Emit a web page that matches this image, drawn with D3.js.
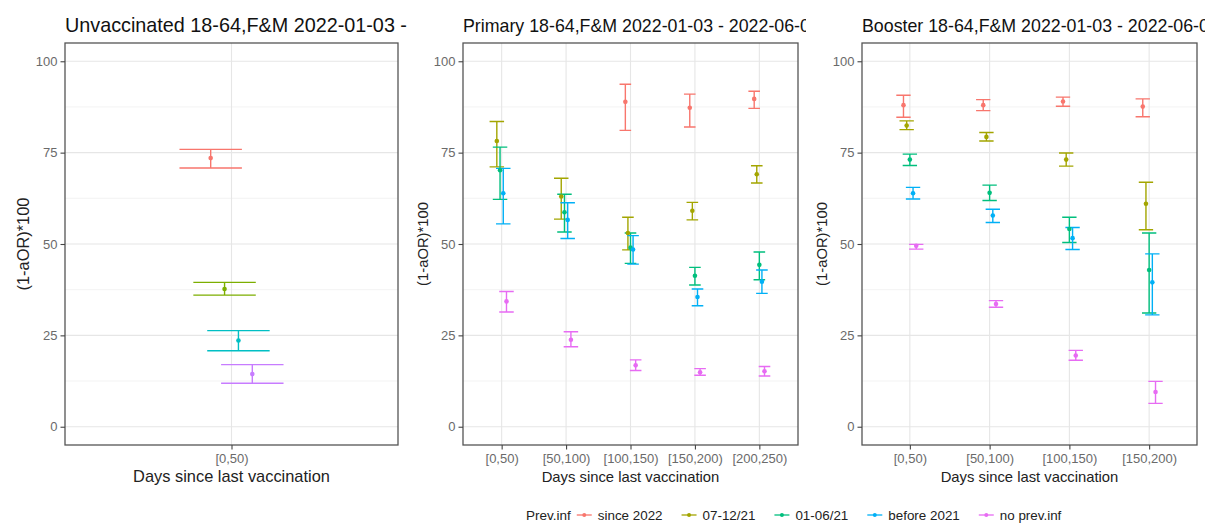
<!DOCTYPE html>
<html><head><meta charset="utf-8">
<script src="https://cdn.jsdelivr.net/npm/d3@7"></script>
<style>
html,body{margin:0;padding:0;background:#fff;}
svg{display:block;font-family:"Liberation Sans",Arial,Helvetica,sans-serif;}
</style></head><body>
<svg id="chart" width="1208" height="524"></svg>
<script>
// Prior-infection groups and their hue palette (5 levels)
const groups = ["since 2022", "07-12/21", "01-06/21", "before 2021", "no prev.inf"];
const groupColors = ["#F8766D", "#A3A500", "#00BF7D", "#00B0F6", "#E76BF3"];
// Unvaccinated panel only has four groups (4-level hue palette)
const unvaxGroups = ["since 2022", "07-12/21", "before 2021", "no prev.inf"];
const unvaxColors = ["#F8766D", "#7CAE00", "#00BFC4", "#C77CFF"];

const yTicks = [0, 25, 50, 75, 100];
const yMinor = [12.5, 37.5, 62.5, 87.5];

// Unvaccinated 18-64
const unvaxCategories = ["[0,50)"];
const unvaxEst = [[73.5], [37.7], [23.6], [14.4]];
const unvaxLo  = [[70.8], [36.0], [20.8], [11.9]];
const unvaxHi  = [[75.9], [39.5], [26.3], [17.0]];

// Primary 18-64
const primaryCategories = ["[0,50)", "[50,100)", "[100,150)", "[150,200)", "[200,250)"];
const primaryEst = [
  [null, null, 88.9, 87.3, 89.7],
  [78.2, 63.0, 53.0, 59.1, 69.1],
  [70.2, 58.7, 49.0, 41.3, 44.3],
  [63.9, 56.6, 48.5, 35.5, 39.7],
  [34.3, 23.8, 16.8, 14.9, 15.2]
];
const primaryLo = [
  [null, null, 81.1, 82.0, 87.1],
  [71.1, 56.8, 48.4, 56.6, 66.7],
  [62.2, 53.3, 44.7, 38.8, 40.2],
  [55.5, 51.5, 44.5, 33.1, 36.5],
  [31.4, 21.9, 15.4, 14.1, 13.9]
];
const primaryHi = [
  [null, null, 93.7, 91.0, 91.8],
  [83.5, 68.0, 57.3, 61.4, 71.4],
  [76.5, 63.6, 53.0, 43.6, 47.8],
  [70.7, 61.3, 52.3, 37.7, 42.9],
  [37.0, 26.0, 18.3, 15.9, 16.5]
];

// Booster 18-64
const boosterCategories = ["[0,50)", "[50,100)", "[100,150)", "[150,200)"];
const boosterEst = [
  [88.0, 88.0, 89.0, 87.6],
  [82.4, 79.3, 73.1, 61.0],
  [73.1, 64.0, 54.1, 42.9],
  [63.9, 57.8, 51.6, 39.5],
  [49.5, 33.6, 19.5, 9.5]
];
const boosterLo = [
  [84.7, 86.5, 87.7, 84.8],
  [81.3, 78.2, 71.3, 53.9],
  [71.5, 61.9, 50.4, 31.1],
  [62.3, 55.9, 48.5, 30.6],
  [48.6, 32.7, 18.2, 6.4]
];
const boosterHi = [
  [90.7, 89.5, 90.2, 89.7],
  [83.7, 80.5, 74.9, 66.9],
  [74.6, 66.1, 57.3, 53.0],
  [65.5, 59.5, 54.5, 47.3],
  [49.9, 34.5, 20.9, 12.4]
];

const panels = [
  { id: "unvax", title: "Unvaccinated 18-64,F&M 2022-01-03 -", titleSize: 19.8, axisTitleSize: 16.4,
    left: 65, right: 398, clipRight: 407, yTitleX: 23,
    categories: unvaxCategories, groups: unvaxGroups, colors: unvaxColors,
    est: unvaxEst, lo: unvaxLo, hi: unvaxHi },
  { id: "primary", title: "Primary 18-64,F&M 2022-01-03 - 2022-06-0", titleSize: 17.8, axisTitleSize: 14.8,
    left: 463, right: 798, clipRight: 806, yTitleX: 423,
    categories: primaryCategories, groups: groups, colors: groupColors,
    est: primaryEst, lo: primaryLo, hi: primaryHi },
  { id: "booster", title: "Booster 18-64,F&M 2022-01-03 - 2022-06-0", titleSize: 17.8, axisTitleSize: 14.8,
    left: 862, right: 1197, clipRight: 1205, yTitleX: 822,
    categories: boosterCategories, groups: groups, colors: groupColors,
    est: boosterEst, lo: boosterLo, hi: boosterHi }
];

const plotTop = 43, plotBottom = 445;
const dodgeWidth = 0.2, barWidth = 0.9;
const svg = d3.select("#chart");
const defs = svg.append("defs");

panels.forEach(p => {
  const g = svg.append("g").attr("class", "panel-" + p.id);
  const x = d3.scalePoint().domain(p.categories).range([p.left, p.right]).padding(0.6);
  const y = d3.scaleLinear().domain([-5, 105]).range([plotBottom, plotTop]);
  const step = x.step();

  // title, clipped to its column
  const clipId = "clip-" + p.id;
  defs.append("clipPath").attr("id", clipId)
    .append("rect").attr("x", p.left - 80).attr("y", 0)
    .attr("width", p.clipRight - (p.left - 80)).attr("height", 40);
  g.append("text")
    .attr("clip-path", `url(#${clipId})`)
    .attr("x", p.left).attr("y", 32)
    .attr("font-size", p.titleSize).attr("fill", "#111")
    .text(p.title);

  // grid
  const grid = g.append("g");
  grid.selectAll(".minor").data(yMinor).join("line")
    .attr("x1", p.left).attr("x2", p.right)
    .attr("y1", d => y(d)).attr("y2", d => y(d))
    .attr("stroke", "#F0F0F0").attr("stroke-width", 0.8);
  grid.selectAll(".majorY").data(yTicks).join("line")
    .attr("x1", p.left).attr("x2", p.right)
    .attr("y1", d => y(d)).attr("y2", d => y(d))
    .attr("stroke", "#E6E6E6").attr("stroke-width", 1.1);
  grid.selectAll(".majorX").data(p.categories).join("line")
    .attr("x1", d => x(d)).attr("x2", d => x(d))
    .attr("y1", plotTop).attr("y2", plotBottom)
    .attr("stroke", "#E6E6E6").attr("stroke-width", 1.1);

  // dodged records
  const records = [];
  p.categories.forEach((cat, ci) => {
    const present = p.groups.map((_, gi) => gi).filter(gi => p.est[gi][ci] != null);
    const n = present.length;
    present.forEach((gi, k) => {
      records.push({
        gi, color: p.colors[gi],
        xc: x(cat) + step * dodgeWidth * ((k + 0.5) / n - 0.5),
        half: step * barWidth / n / 2,
        est: p.est[gi][ci], lo: p.lo[gi][ci], hi: p.hi[gi][ci]
      });
    });
  });

  const marks = g.append("g");
  marks.selectAll("path.eb").data(records).join("path")
    .attr("class", "eb")
    .attr("d", d => `M${d.xc - d.half},${y(d.hi)}H${d.xc + d.half}M${d.xc},${y(d.hi)}V${y(d.lo)}M${d.xc - d.half},${y(d.lo)}H${d.xc + d.half}`)
    .attr("fill", "none").attr("stroke", d => d.color).attr("stroke-width", 1.4);
  marks.selectAll("circle").data(records).join("circle")
    .attr("cx", d => d.xc).attr("cy", d => y(d.est)).attr("r", 2.3)
    .attr("fill", d => d.color);

  // border
  g.append("rect").attr("x", p.left).attr("y", plotTop)
    .attr("width", p.right - p.left).attr("height", plotBottom - plotTop)
    .attr("fill", "none").attr("stroke", "#555").attr("stroke-width", 1.3);

  // axes
  const ya = g.append("g").attr("transform", `translate(${p.left},0)`)
    .call(d3.axisLeft(y).tickValues(yTicks).tickSize(4.5).tickPadding(3));
  const xa = g.append("g").attr("transform", `translate(0,${plotBottom})`)
    .call(d3.axisBottom(x).tickSize(4.5).tickPadding(4));
  [ya, xa].forEach(a => {
    a.select(".domain").remove();
    a.selectAll(".tick line").attr("stroke", "#444").attr("stroke-width", 1.1);
    a.selectAll(".tick text").attr("fill", "#6a6a6a").attr("font-size", 13)
      .attr("font-family", "Liberation Sans, Arial, sans-serif");
  });

  // axis titles
  g.append("text")
    .attr("x", (p.left + p.right) / 2).attr("y", 482)
    .attr("text-anchor", "middle").attr("font-size", p.axisTitleSize).attr("fill", "#222")
    .text("Days since last vaccination");
  g.append("text")
    .attr("transform", `translate(${p.yTitleX},${(plotTop + plotBottom) / 2}) rotate(-90)`)
    .attr("text-anchor", "middle").attr("dominant-baseline", "central")
    .attr("font-size", p.axisTitleSize).attr("fill", "#222")
    .text("(1-aOR)*100");
});

// legend
const legend = svg.append("g").attr("class", "legend");
const ly = 515;
let lx = 526;
const lt = legend.append("text").attr("x", lx).attr("y", ly)
  .attr("dominant-baseline", "central").attr("font-size", 13.5).attr("fill", "#222")
  .text("Prev.inf");
lx += lt.node().getComputedTextLength() + 6;
groups.forEach((name, i) => {
  legend.append("line").attr("x1", lx).attr("x2", lx + 15).attr("y1", ly).attr("y2", ly)
    .attr("stroke", groupColors[i]).attr("stroke-width", 1.3);
  legend.append("circle").attr("cx", lx + 7.5).attr("cy", ly).attr("r", 2)
    .attr("fill", groupColors[i]);
  lx += 21;
  const t = legend.append("text").attr("x", lx).attr("y", ly)
    .attr("dominant-baseline", "central").attr("font-size", 13.4).attr("fill", "#222")
    .text(name);
  lx += t.node().getComputedTextLength() + 19;
});
</script>
</body></html>
